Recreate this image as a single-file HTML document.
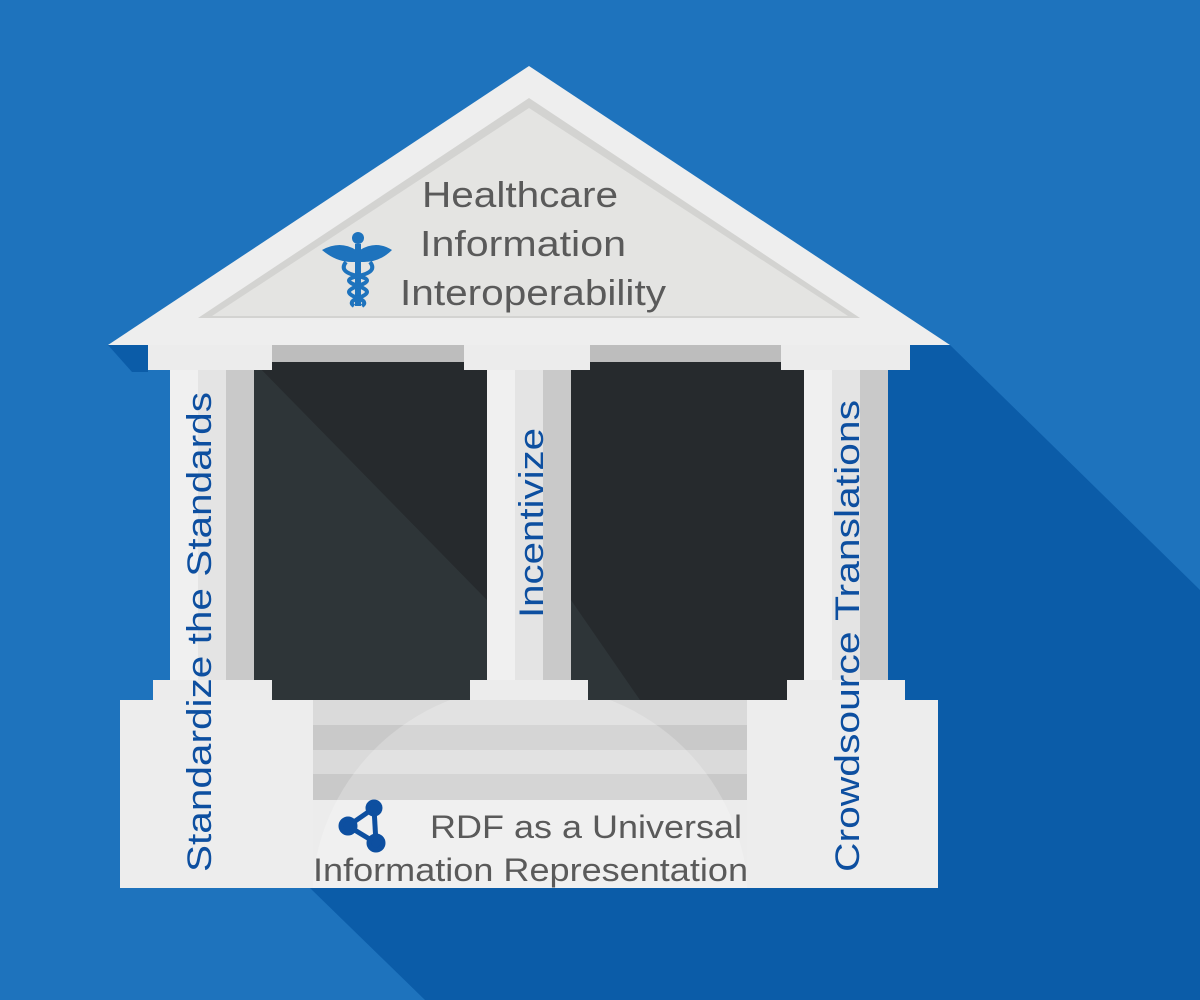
<!DOCTYPE html>
<html><head><meta charset="utf-8"><style>html,body{margin:0;padding:0;background:#1e73bd;width:1200px;height:1000px;overflow:hidden}svg{display:block}</style></head><body>
<svg width="1200" height="1000" viewBox="0 0 1200 1000" xmlns="http://www.w3.org/2000/svg" font-family="Liberation Sans, sans-serif">
<rect width="1200" height="1000" fill="#1e73bd"/>
<polygon points="880,345 950,345 1200,590 1200,1000 425,1000 310,888 880,888" fill="#0b5ca8"/>
<polygon points="108,345 148,345 148,372 132,372" fill="#0b5ca8"/>
<!-- roof -->
<polygon points="529,66 950,345 108,345" fill="#eeeeee"/>
<polygon points="529,98 860,318 198,318" fill="#d3d3d1"/>
<polygon points="529,108 848,316 212,316" fill="#e4e4e2"/>
<!-- entablature -->
<rect x="148" y="345" width="762" height="17" fill="#bdbdbd"/>
<!-- dark panels -->
<rect x="254" y="362" width="233" height="338" fill="#262a2d"/>
<polygon points="254,362 487,600 487,700 254,700" fill="#2e3538"/>
<rect x="571" y="362" width="233" height="338" fill="#262a2d"/>
<polygon points="571,600 640,700 571,700" fill="#2e3538"/>
<!-- columns -->
<g>
<rect x="148" y="345" width="124" height="25" fill="#ececec"/>
<rect x="170" y="370" width="28" height="310" fill="#f0f0f0"/><rect x="198" y="370" width="28" height="310" fill="#e4e4e4"/><rect x="226" y="370" width="28" height="310" fill="#c9c9c9"/>
<rect x="153" y="680" width="119" height="20" fill="#ececec"/>
<rect x="464" y="345" width="126" height="25" fill="#ececec"/>
<rect x="487" y="370" width="28" height="310" fill="#f0f0f0"/><rect x="515" y="370" width="28" height="310" fill="#e4e4e4"/><rect x="543" y="370" width="28" height="310" fill="#c9c9c9"/>
<rect x="470" y="680" width="118" height="20" fill="#ececec"/>
<rect x="781" y="345" width="129" height="25" fill="#ececec"/>
<rect x="804" y="370" width="28" height="310" fill="#f0f0f0"/><rect x="832" y="370" width="28" height="310" fill="#e4e4e4"/><rect x="860" y="370" width="28" height="310" fill="#c9c9c9"/>
<rect x="787" y="680" width="118" height="20" fill="#ececec"/>
</g>
<!-- plinth -->
<rect x="120" y="700" width="818" height="188" fill="#ededed"/>
<rect x="313" y="700" width="434" height="25" fill="#dadada"/>
<rect x="313" y="725" width="434" height="25" fill="#c9c9c9"/>
<rect x="313" y="750" width="434" height="24" fill="#dadada"/>
<rect x="313" y="774" width="434" height="26" fill="#c9c9c9"/>
<rect x="313" y="800" width="434" height="88" fill="#ececec"/>
<clipPath id="c"><rect x="313" y="700" width="434" height="188"/></clipPath>
<ellipse cx="530" cy="900" rx="218" ry="215" fill="#ffffff" fill-opacity="0.22" clip-path="url(#c)"/>
<!-- roof text -->
<g fill="#5a5a5a" font-size="36" text-anchor="middle">
<text x="520" y="207" textLength="196" lengthAdjust="spacingAndGlyphs">Healthcare</text>
<text x="523" y="256" textLength="206" lengthAdjust="spacingAndGlyphs">Information</text>
<text x="533" y="305" textLength="266" lengthAdjust="spacingAndGlyphs">Interoperability</text>
</g>
<!-- caduceus -->
<g fill="#1e73bd" stroke="none">
<circle cx="358" cy="238" r="6"/>
<path d="M322,250 Q340,240 356,250 L360,250 Q376,240 392,250 Q380,262 364,262 L352,262 Q336,262 322,250Z"/>
<rect x="355" y="244" width="6" height="62"/>
</g>
<g fill="none" stroke="#1e73bd" stroke-width="4">
<path d="M346,262 Q338,272 358,276 Q376,280 358,286 Q340,292 358,298 Q368,302 362,306"/>
<path d="M370,262 Q378,272 358,276 Q340,280 358,286 Q376,292 358,298 Q348,302 354,306"/>
</g>
<!-- column text -->
<g fill="#0d4fa0" font-size="34">
<text transform="translate(211,872) rotate(-90)" textLength="480" lengthAdjust="spacingAndGlyphs">Standardize the Standards</text>
<text transform="translate(543,618) rotate(-90)" textLength="190" lengthAdjust="spacingAndGlyphs">Incentivize</text>
<text transform="translate(859,872) rotate(-90)" textLength="472" lengthAdjust="spacingAndGlyphs">Crowdsource Translations</text>
</g>
<!-- RDF icon -->
<g stroke="#0d4fa0" stroke-width="5" fill="#0d4fa0">
<line x1="374" y1="808" x2="348" y2="826"/><line x1="374" y1="808" x2="376" y2="843"/><line x1="348" y1="826" x2="376" y2="843"/>
<circle cx="374" cy="808" r="6"/><circle cx="348" cy="826" r="7"/><circle cx="376" cy="843" r="7"/>
</g>
<g fill="#5a5a5a" font-size="32">
<text x="430" y="838" textLength="312" lengthAdjust="spacingAndGlyphs">RDF as a Universal</text>
<text x="313" y="881" textLength="435" lengthAdjust="spacingAndGlyphs">Information Representation</text>
</g>
</svg>
</body></html>
